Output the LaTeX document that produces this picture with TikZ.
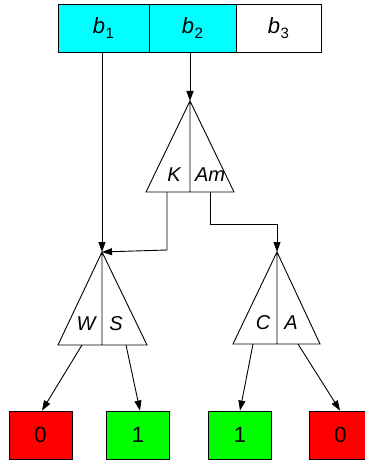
\documentclass[tikz,border=0pt]{standalone}
\usepackage{fontspec}
\setmainfont{Liberation Sans}
\usetikzlibrary{arrows.meta}
\definecolor{cyanfill}{RGB}{0,255,255}
\definecolor{redfill}{RGB}{255,0,0}
\definecolor{greenfill}{RGB}{0,255,0}
\newcommand{\bsub}[1]{\textit{b}\kern0.5pt\raisebox{-5pt}{\fontsize{15}{15}\selectfont #1}}
\begin{document}
\begin{tikzpicture}[x=1pt,y=-1pt,line width=0.9pt,
  cell/.style={draw,minimum width=#1,minimum height=48pt,inner sep=0pt,font=\fontsize{22}{24}\selectfont},
  leaf/.style={draw,minimum width=63pt,minimum height=48pt,inner sep=0pt,font=\fontsize{22}{24}\selectfont},
  lab/.style={inner sep=0pt,font=\fontsize{20}{22}\selectfont\itshape},
  arr/.style={-{Triangle[length=10pt,width=7pt]}}]
\useasboundingbox (0,0) rectangle (364,462);
% top bar
\node[cell=91pt,fill=cyanfill] (b1) at (103.5,28) {\bsub{1}};
\node[cell=87pt,fill=cyanfill] (b2) at (192.5,28) {\bsub{2}};
\node[cell=85pt] (b3) at (278.5,28) {\bsub{3}};
% triangle K / Am
\coordinate (t1) at (190,101);
\coordinate (t1l) at (146,192);
\coordinate (t1r) at (234,192);
\coordinate (t1m) at (190,192);
\draw (t1) -- (t1l) -- (t1r) -- cycle (t1) -- (t1m);
\node[lab,anchor=base] (K) at (174,182) {K};
\node[lab,anchor=base] (Am) at (210,182) {Am};
% triangle W / S
\coordinate (t2) at (102,252);
\coordinate (t2l) at (58,345);
\coordinate (t2r) at (147,345);
\coordinate (t2m) at (102,345);
\draw (t2) -- (t2l) -- (t2r) -- cycle (t2) -- (t2m);
\node[lab,anchor=base] (W) at (86,330) {W};
\node[lab,anchor=base] (S) at (116,330) {S};
% triangle C / A
\coordinate (t3) at (277,252);
\coordinate (t3l) at (233,344);
\coordinate (t3r) at (320,344);
\coordinate (t3m) at (277,344);
\draw (t3) -- (t3l) -- (t3r) -- cycle (t3) -- (t3m);
\node[lab,anchor=base] (C) at (263,329) {C};
\node[lab,anchor=base] (A) at (291,329) {A};
% leaves
\node[leaf,fill=redfill] (l1) at (40.5,435) {0};
\node[leaf,fill=greenfill] (l2) at (138,435) {1};
\node[leaf,fill=greenfill] (l3) at (240,435) {1};
\node[leaf,fill=redfill] (l4) at (340.5,435) {0};
% connectors
\draw[arr] (b1.south -| t2) -- (t2);
\draw[arr] (b2.south -| t1) -- (t1);
\coordinate (k0) at (167,192);
\coordinate (k1) at (167,250);
\draw[arr] (k0) -- (k1) -- (t2);
\coordinate (a0) at (210,192);
\coordinate (a1) at (210,224);
\draw[arr] (a0) -- (a1) -| (t3);
\coordinate (w0) at (82,345);
\coordinate (s0) at (126,345);
\coordinate (c0) at (253,344);
\coordinate (r0) at (298,344);
\draw[arr] (w0) -- (l1.north -| 42,0);
\draw[arr] (s0) -- (l2.north -| 140,0);
\draw[arr] (c0) -- (l3.north -| 240,0);
\draw[arr] (r0) -- (l4.north -| 340,0);
\end{tikzpicture}
\end{document}
